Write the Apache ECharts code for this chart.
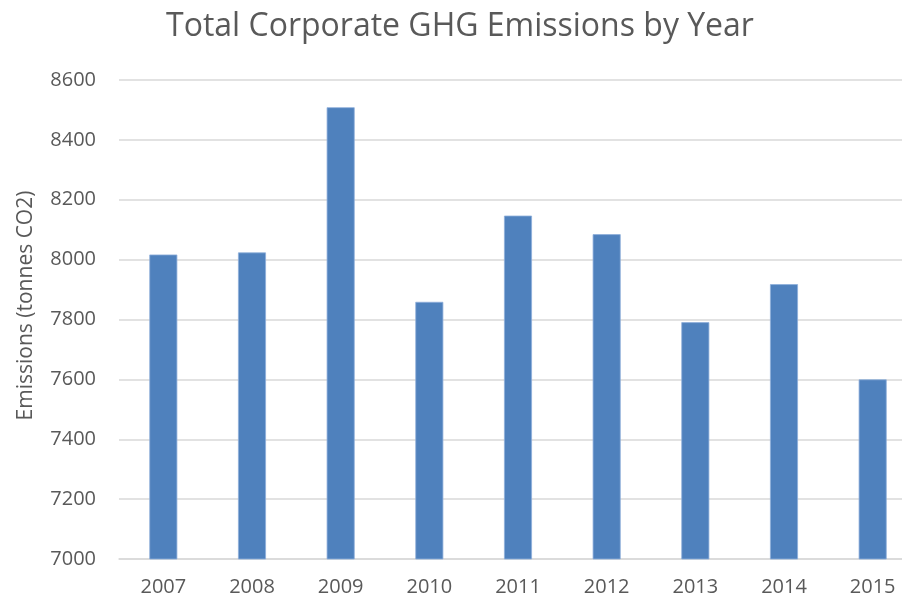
<!DOCTYPE html>
<html>
<head>
<meta charset="utf-8">
<script src="https://cdn.jsdelivr.net/npm/echarts@6/dist/echarts.min.js"></script>
<style>html,body{margin:0;padding:0;background:#fff;overflow:hidden}#c{width:917px;height:600px}</style>
</head>
<body>
<div id="c"></div>
<script>
const years = ['2007','2008','2009','2010','2011','2012','2013','2014','2015'];
const emissions = [8017, 8024, 8509, 7859, 8147, 8085, 7791, 7918, 7600];
const yTicks = [7000, 7200, 7400, 7600, 7800, 8000, 8200, 8400, 8600];

const chart = echarts.init(document.getElementById('c'), null, {renderer: 'canvas'});
chart.setOption({
  animation: false,
  backgroundColor: '#ffffff',
  title: {
    text: 'Total Corporate GHG Emissions by Year',
    left: 455, textAlign: 'center', top: 6,
    textStyle: {fontFamily: 'Open Sans', fontWeight: 'normal', fontSize: 32, color: '#595959'}
  },
  grid: {left: 119, top: 80, right: 0, bottom: 41, containLabel: false},
  xAxis: {
    type: 'category', data: years,
    axisLine: {lineStyle: {color: '#d9d9d9', width: 1.5}},
    axisTick: {show: false},
    axisLabel: {color: '#595959', fontSize: 20, fontFamily: 'Open Sans', margin: 18}
  },
  yAxis: {
    type: 'value', min: yTicks[0], max: yTicks[yTicks.length-1], interval: 200,
    name: 'Emissions (tonnes CO2)', nameLocation: 'middle', nameGap: 82,
    nameTextStyle: {color: '#595959', fontSize: 21, fontFamily: 'Open Sans', padding: [0, 0, 0, 28]},
    axisLine: {show: false}, axisTick: {show: false},
    axisLabel: {color: '#595959', fontSize: 20, fontFamily: 'Open Sans', margin: 23,
      formatter: v => String(v)},
    splitLine: {lineStyle: {color: '#d9d9d9', width: 1.5}}
  },
  series: [{
    type: 'bar', data: emissions, barWidth: 28,
    itemStyle: {color: '#4f81bd', borderColor: '#8eaedb', borderWidth: 0.8}
  }]
});
</script>
</body>
</html>
